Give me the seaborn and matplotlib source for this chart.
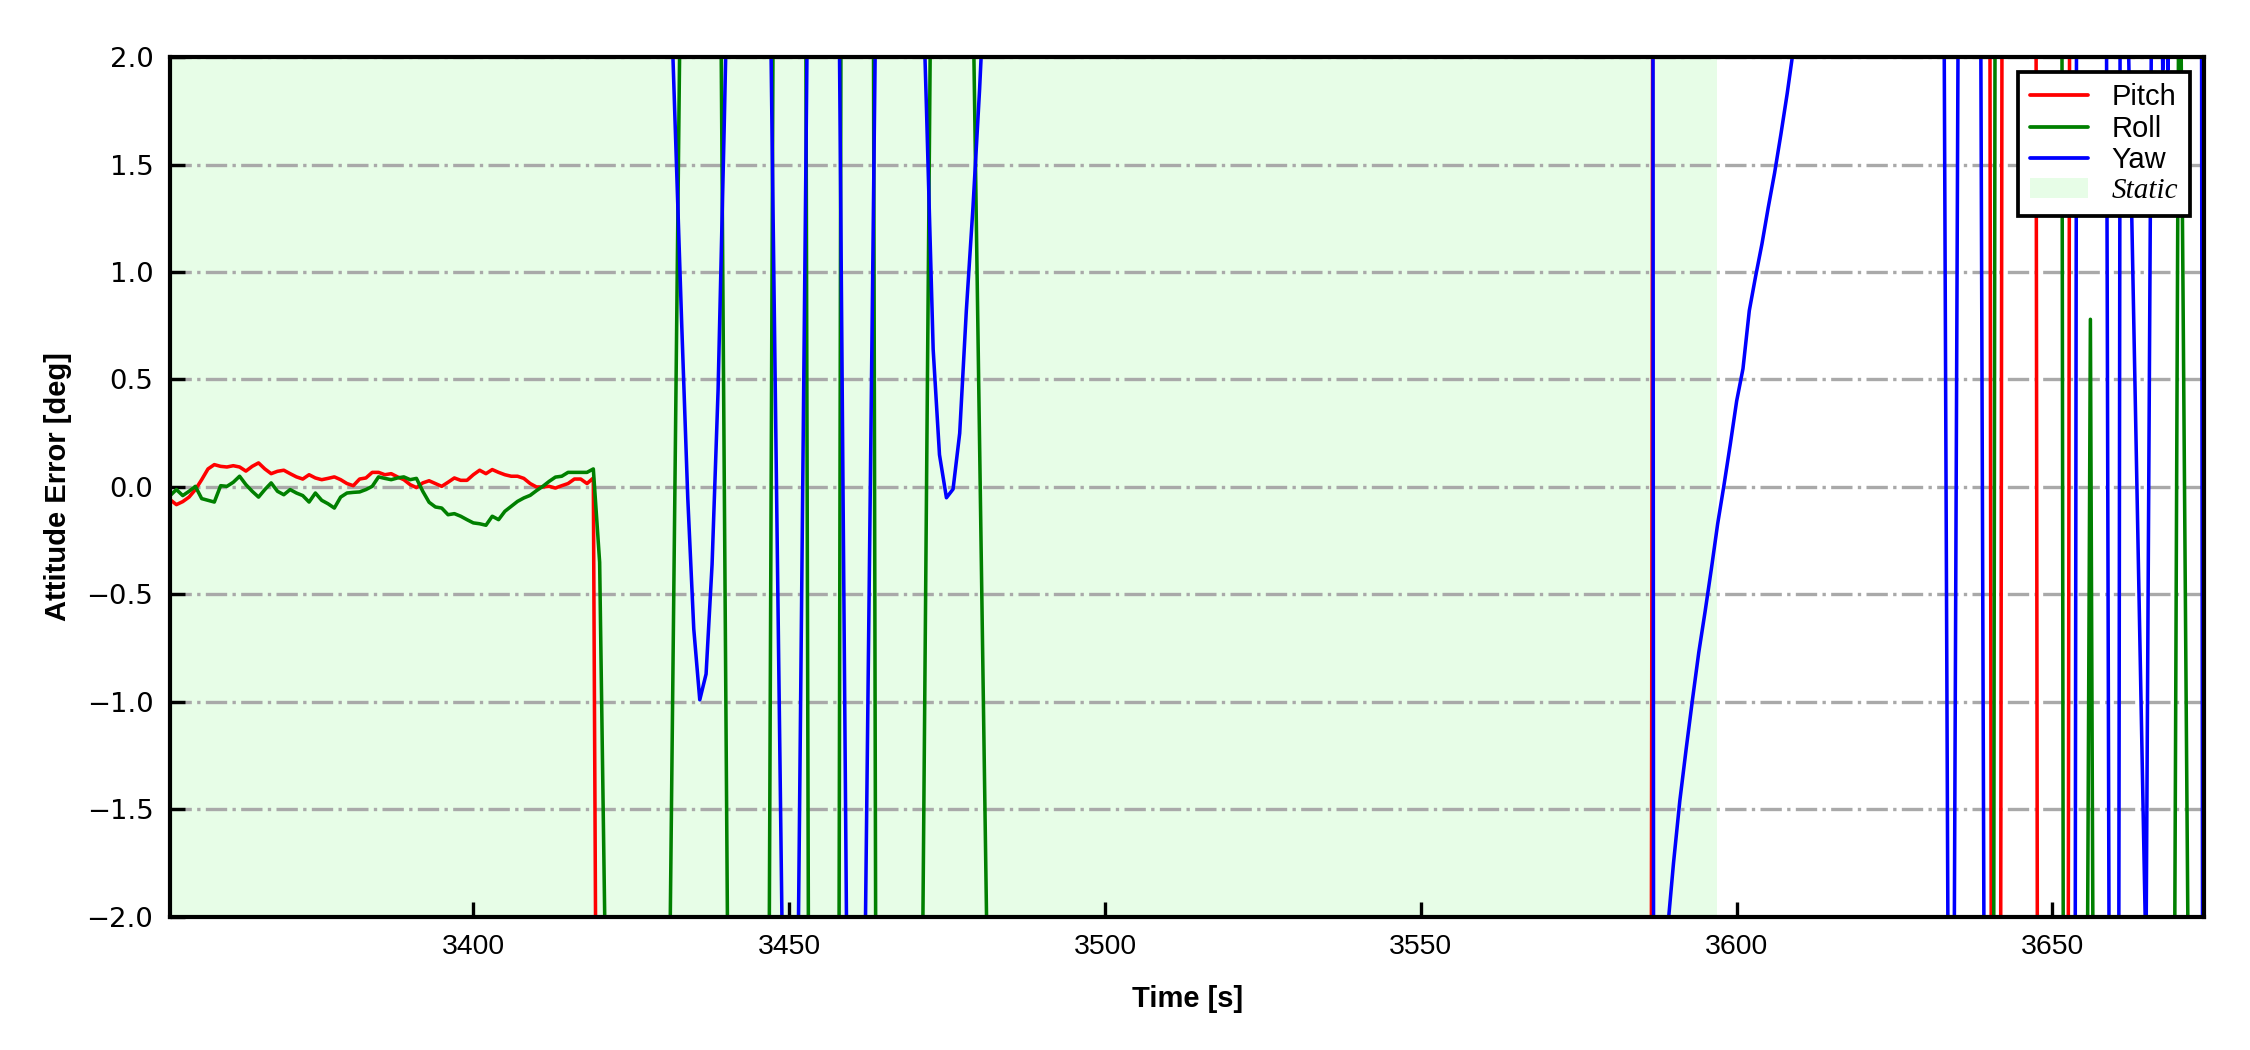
import numpy as np
import pandas as pd
import matplotlib
matplotlib.use("Agg")
import matplotlib.pyplot as plt
from matplotlib.lines import Line2D
from matplotlib.patches import Patch
from matplotlib.ticker import MultipleLocator
import seaborn as sns

# ---------------- data ----------------
t_static_start = 3340.0
t_static_end = 3596.9

t_early = list(range(3352, 3420))  # 3352 .. 3419, 1 s samples

pitch_early = [-0.059, -0.082, -0.068, -0.047, -0.012, 0.034, 0.084, 0.104, 0.096, 0.093,
               0.099, 0.093, 0.074, 0.096, 0.112, 0.084, 0.062, 0.073, 0.078, 0.062,
               0.047, 0.037, 0.057, 0.042, 0.034, 0.040, 0.047, 0.034, 0.016, 0.006,
               0.037, 0.042, 0.068, 0.068, 0.057, 0.062, 0.047, 0.034, 0.011, -0.003,
               0.019, 0.029, 0.016, 0.003, 0.022, 0.042, 0.031, 0.031, 0.057, 0.078,
               0.062, 0.081, 0.068, 0.057, 0.050, 0.050, 0.040, 0.016, 0.000, 0.000,
               0.003, -0.005, 0.006, 0.016, 0.037, 0.037, 0.016, 0.042]

roll_early = [-0.040, -0.012, -0.040, -0.020, 0.003, -0.054, -0.062, -0.070, 0.006, 0.003,
              0.022, 0.050, 0.011, -0.020, -0.047, -0.012, 0.019, -0.020, -0.036, -0.012,
              -0.028, -0.040, -0.070, -0.028, -0.062, -0.078, -0.098, -0.047, -0.028, -0.025,
              -0.023, -0.012, 0.003, 0.047, 0.040, 0.034, 0.042, 0.047, 0.034, 0.040,
              -0.020, -0.071, -0.093, -0.098, -0.129, -0.124, -0.136, -0.152, -0.167, -0.171,
              -0.178, -0.136, -0.152, -0.113, -0.090, -0.067, -0.051, -0.039, -0.017, 0.003,
              0.026, 0.046, 0.050, 0.068, 0.068, 0.068, 0.068, 0.084]

pitch_late_t = [3419.4, 3586.5, 3586.7, 3640.1, 3640.3, 3641.8, 3642.0, 3647.4, 3647.6,
                3652.5, 3652.7, 3675.0]
pitch_late_v = [-2.3, -2.1, 2.1, 2.1, -2.1, -2.1, 2.1, 2.1, -2.1, -2.1, 2.1, 2.3]

roll_late_t = [3420.0, 3421.0, 3431.0, 3432.8, 3439.2, 3440.3, 3446.85, 3447.45, 3452.65,
               3453.05, 3457.9, 3458.2, 3463.35, 3463.7, 3471.15, 3472.35, 3479.2, 3481.3,
               3640.7, 3640.9, 3651.5, 3651.7, 3655.55, 3656.0, 3656.4, 3669.35, 3669.95,
               3670.35, 3671.45, 3675.0]
roll_late_v = [-0.35, -2.4, -2.5, 2.4, 2.2, -2.3, -2.1, 2.1, 2.1, -2.1, -2.1, 2.1, 2.1, -2.1,
               -2.1, 2.1, 2.1, -2.1, -2.1, 2.1, 2.1, -2.1, -2.1, 0.78, -2.1, -2.1, 2.1, 2.1,
               -2.1, -2.3]

yaw_t = [3352.0, 3431.1, 3432.05, 3433.0, 3433.95, 3434.9, 3435.85, 3436.85, 3437.8, 3438.75,
         3439.7, 3440.6,
         3447.1, 3448.9, 3451.45, 3452.85, 3457.95, 3459.1, 3462.05, 3463.65,
         3470.7, 3471.75, 3472.8, 3473.8, 3474.9, 3475.95, 3477.0, 3478.05, 3479.1, 3480.15,
         3481.2,
         3586.75, 3586.85, 3588, 3589, 3590, 3591, 3592, 3593, 3594, 3595, 3596, 3597, 3598,
         3599, 3600, 3601, 3602, 3603, 3604, 3605, 3606, 3607, 3608, 3609, 3610,
         3632.85, 3633.45, 3634.45, 3635.05, 3638.65, 3639.15, 3653.6, 3653.8, 3658.55,
         3658.95, 3660.5, 3660.7, 3662.0, 3664.8, 3665.65, 3667.35, 3667.45, 3667.55,
         3668.15, 3668.25, 3668.35, 3673.6, 3673.75, 3675.0]
yaw_v = [2.5, 2.45, 1.6, 0.75, -0.05, -0.66, -0.99, -0.87, -0.36, 0.45,
         1.65, 2.9,
         2.1, -2.1, -2.1, 2.1, 2.1, -2.1, -2.1, 2.1,
         2.8, 1.75, 0.64, 0.15, -0.05, -0.01, 0.25, 0.82, 1.3, 1.85,
         2.5,
         2.3, -2.5, -2.32, -2.08, -1.75, -1.46, -1.22, -0.99, -0.77, -0.58, -0.38, -0.17, 0.01,
         0.2, 0.4, 0.55, 0.82, 0.98, 1.13, 1.3, 1.46, 1.64, 1.83, 2.04, 2.25,
         2.1, -2.1, -2.1, 2.1, 2.1, -2.1, -2.1, 2.1, 2.1,
         -2.1, -2.1, 2.1, 2.1, -2.2, 2.1, 2.2, 1.94, 2.2,
         2.2, 1.94, 2.2, 2.1, -2.1, -2.5]

series_names = ["Pitch", "Roll", "Yaw"]
series_colors = ["#ff0000", "#008000", "#0000ff"]
static_label = "Static"
static_color = "#e7fde7"

x_limits = (3352, 3674)
y_limits = (-2.0, 2.0)
x_label = "Time [s]"
y_label = "Attitude Error [deg]"

# ---------------- assemble ----------------
pitch_t = list(t_early) + pitch_late_t
pitch_v = pitch_early + pitch_late_v
roll_t = list(t_early) + roll_late_t
roll_v = roll_early + roll_late_v

df = pd.concat([
    pd.DataFrame({"Time": pitch_t, "Error": pitch_v, "Axis": "Pitch"}),
    pd.DataFrame({"Time": roll_t, "Error": roll_v, "Axis": "Roll"}),
    pd.DataFrame({"Time": yaw_t, "Error": yaw_v, "Axis": "Yaw"}),
], ignore_index=True)

# ---------------- style ----------------
sns.set_theme(style="white")
plt.rcParams["font.family"] = ["Liberation Sans", "DejaVu Sans"]
plt.rcParams.update({
    "axes.edgecolor": "black",
    "axes.labelcolor": "black",
    "text.color": "black",
    "axes.linewidth": 1.0,
    "xtick.direction": "in",
    "ytick.direction": "in",
    "xtick.major.size": 3.5,
    "ytick.major.size": 3.5,
    "xtick.major.width": 0.8,
    "ytick.major.width": 0.8,
    "xtick.color": "black",
    "ytick.color": "black",
    "xtick.labelcolor": "black",
    "ytick.labelcolor": "black",
    "xtick.bottom": True,
    "ytick.left": True,
})

fig = plt.figure(figsize=(7.5, 3.5), dpi=300)
ax = fig.add_axes([0.0756, 0.1267, 0.904, 0.819])

ax.axvspan(t_static_start, t_static_end, facecolor=static_color, edgecolor="none", zorder=0)
ax.grid(axis="y", linestyle="-.", color="darkgray", linewidth=0.8)
ax.grid(axis="x", visible=False)
ax.set_axisbelow(True)

sns.lineplot(data=df, x="Time", y="Error", hue="Axis", hue_order=series_names,
             palette=dict(zip(series_names, series_colors)), estimator=None, sort=False,
             linewidth=0.85, legend=False, ax=ax)

ax.set_xlim(*x_limits)
ax.set_ylim(*y_limits)
ax.xaxis.set_major_locator(MultipleLocator(50))
ax.yaxis.set_major_locator(MultipleLocator(0.5))
ax.tick_params(axis="x", labelsize=6.8, pad=4)
ax.tick_params(axis="y", labelsize=6.6, pad=4)
for lab in ax.get_yticklabels():
    lab.set_fontfamily(["DejaVu Sans"])
ax.set_xlabel(x_label, fontsize=7, fontweight="bold", labelpad=6)
ax.set_ylabel(y_label, fontsize=7, fontweight="bold", labelpad=3.5)
for s in ax.spines.values():
    s.set_visible(True)
    s.set_color("black")
    s.set_linewidth(1.0)

handles = [Line2D([], [], color=c, lw=0.9) for c in series_colors]
handles.append(Patch(facecolor=static_color, edgecolor="none"))
leg = ax.legend(handles, series_names + [static_label], loc="upper right", fontsize=7,
                frameon=True, fancybox=False, framealpha=1, edgecolor="black",
                labelspacing=0.12, handlelength=2.0, borderpad=0.4, handletextpad=0.8)
leg.get_frame().set_linewidth(0.9)
leg.get_texts()[3].set_fontfamily(["Liberation Serif", "DejaVu Serif"])
leg.get_texts()[3].set_fontstyle("italic")

fig.savefig("out.png", dpi=300)
